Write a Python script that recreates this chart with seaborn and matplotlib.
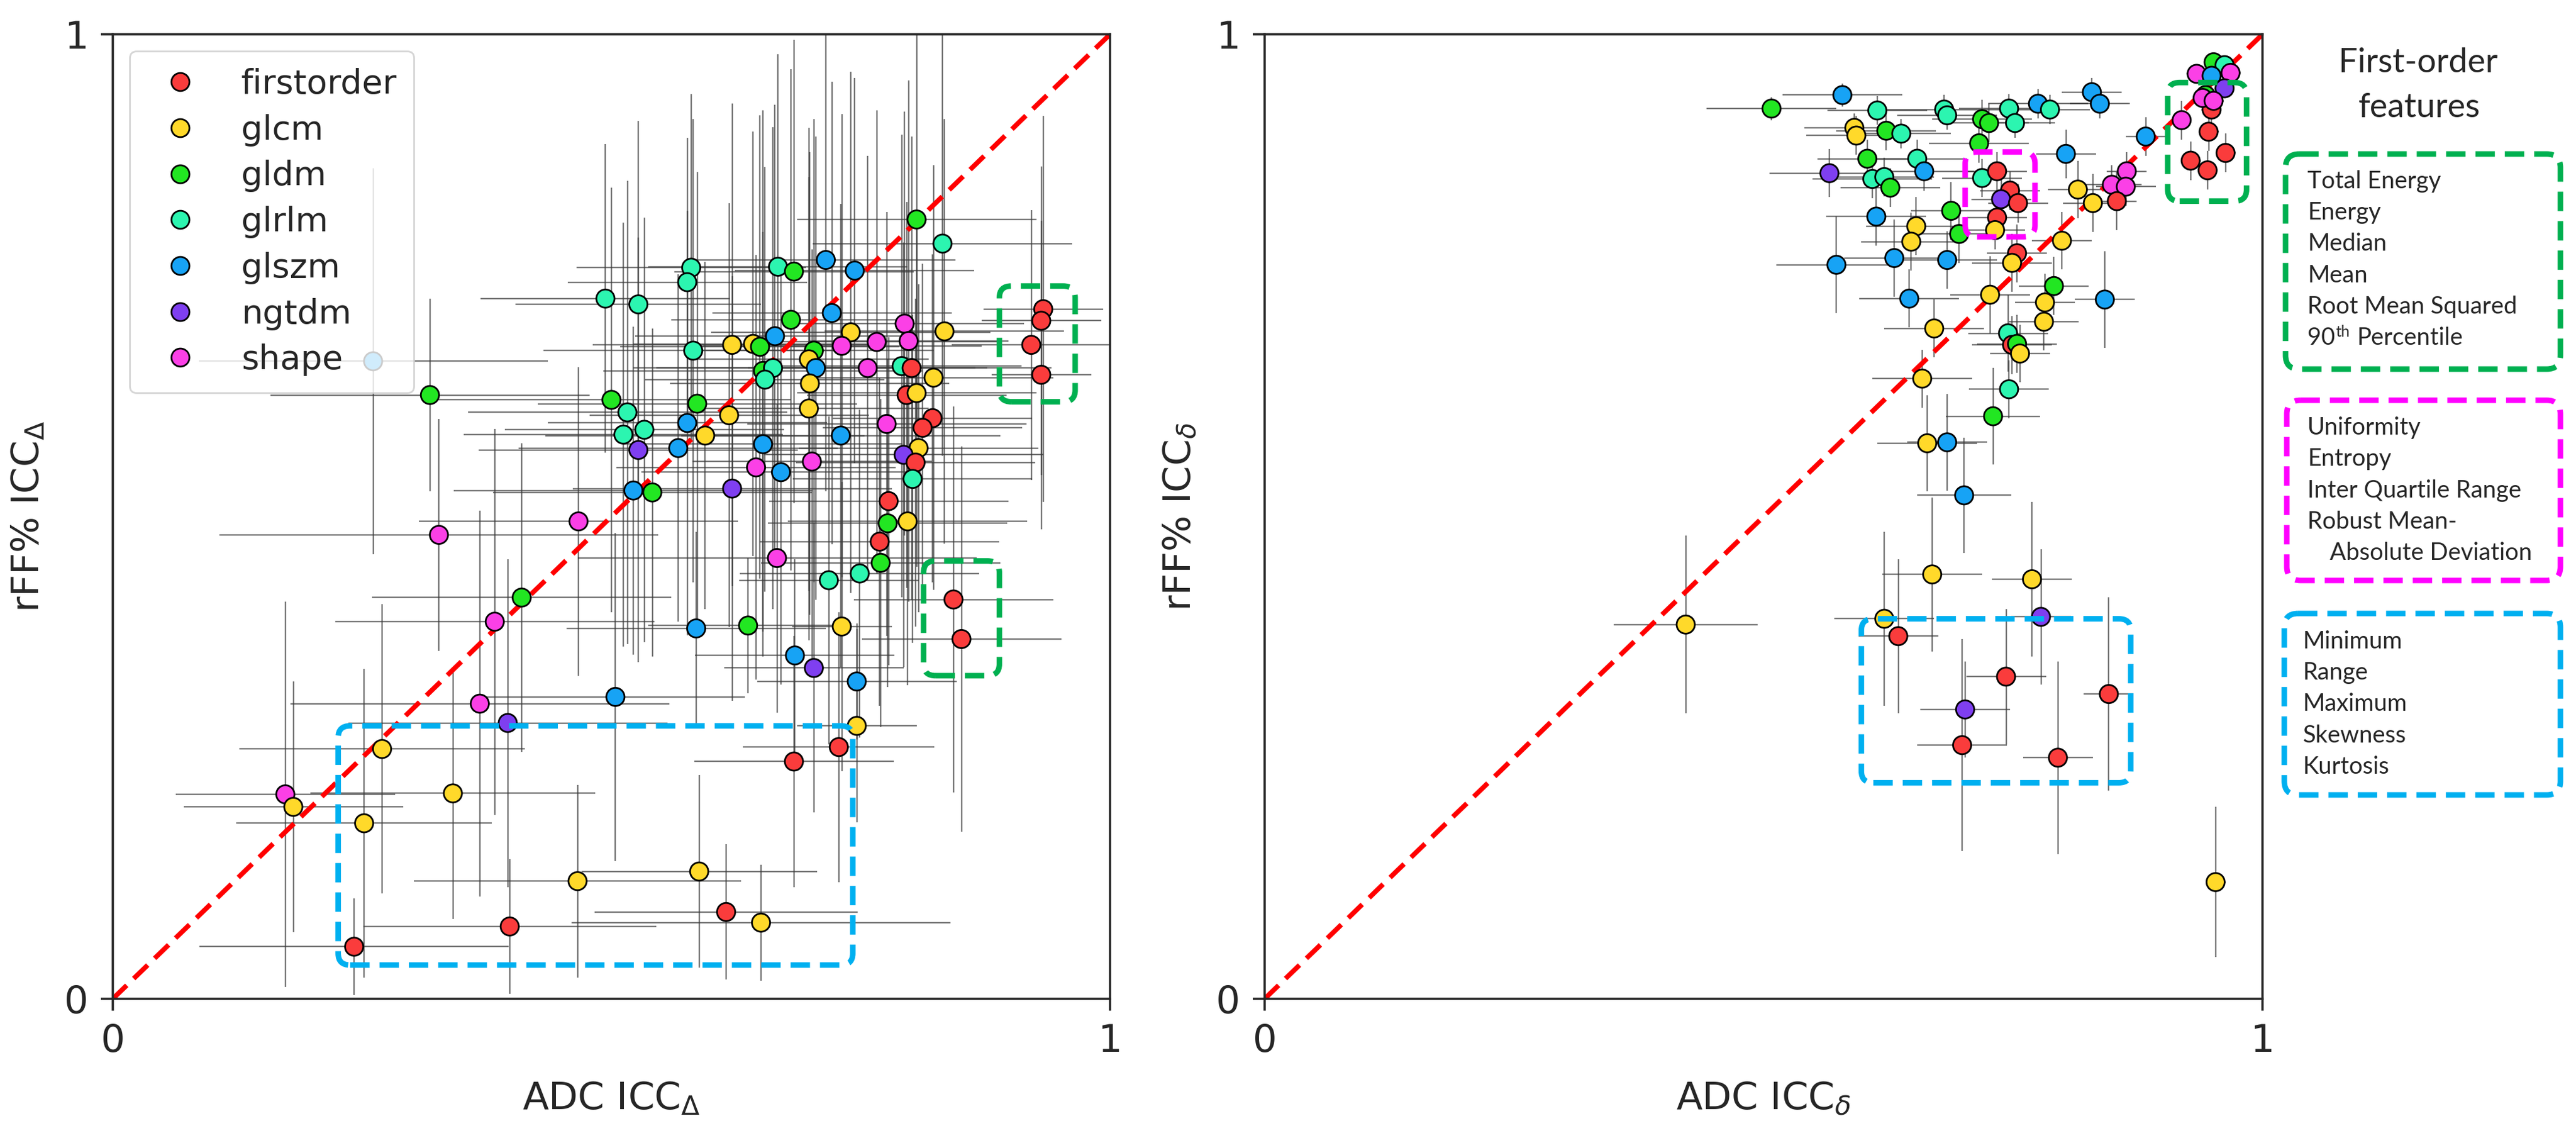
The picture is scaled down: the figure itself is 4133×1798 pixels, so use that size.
import numpy as np
import pandas as pd
import seaborn as sns
import matplotlib
matplotlib.use("Agg")
from matplotlib import pyplot as plt
from matplotlib.lines import Line2D
from matplotlib.patches import FancyBboxPatch
from matplotlib.text import Annotation

# feature classes and colours
classes = ["firstorder", "glcm", "gldm", "glrlm", "glszm", "ngtdm", "shape"]
class_colors = ["#fa3c3c", "#ffd92a", "#22e622", "#2cf5b0", "#17a3f5", "#7f3ff0", "#fb40e6"]

# left panel: ADC ICC_Delta vs rFF% ICC_Delta
left_x = [0.806, 0.832, 0.715, 0.744, 0.667, 0.683, 0.580, 0.576, 0.494, 0.527,
          0.721, 0.680, 0.794, 0.834, 0.933, 0.931, 0.921, 0.931, 0.740, 0.766,
          0.798, 0.731, 0.582, 0.621, 0.642, 0.649, 0.664, 0.703, 0.698, 0.705,
          0.757, 0.791, 0.801, 0.823, 0.652, 0.662, 0.654, 0.699, 0.796, 0.806,
          0.500, 0.516, 0.586, 0.618, 0.698, 0.822, 0.812, 0.776, 0.512, 0.533,
          0.576, 0.594, 0.567, 0.527, 0.652, 0.730, 0.808, 0.793, 0.805, 0.802,
          0.645, 0.670, 0.701, 0.621, 0.522, 0.541, 0.467, 0.778, 0.777, 0.797,
          0.769, 0.666, 0.770, 0.749, 0.718, 0.261, 0.318, 0.327, 0.410, 0.383,
          0.585, 0.637, 0.731, 0.843, 0.851, 0.684, 0.703, 0.746, 0.504, 0.368,
          0.396, 0.746, 0.270, 0.728, 0.683, 0.341, 0.173, 0.181, 0.252, 0.588,
          0.466, 0.615, 0.650, 0.398, 0.242]
left_y = [0.808, 0.783, 0.766, 0.755, 0.759, 0.754, 0.758, 0.743, 0.726, 0.720,
          0.711, 0.704, 0.700, 0.692, 0.715, 0.703, 0.678, 0.647, 0.691, 0.681,
          0.682, 0.677, 0.672, 0.678, 0.679, 0.676, 0.687, 0.672, 0.663, 0.654,
          0.654, 0.656, 0.654, 0.644, 0.651, 0.654, 0.642, 0.638, 0.626, 0.628,
          0.621, 0.608, 0.617, 0.605, 0.612, 0.602, 0.592, 0.596, 0.585, 0.590,
          0.597, 0.584, 0.571, 0.569, 0.575, 0.584, 0.571, 0.564, 0.556, 0.539,
          0.551, 0.546, 0.557, 0.529, 0.527, 0.525, 0.495, 0.516, 0.493, 0.495,
          0.474, 0.457, 0.452, 0.441, 0.434, 0.661, 0.626, 0.481, 0.416, 0.391,
          0.384, 0.387, 0.386, 0.414, 0.373, 0.356, 0.343, 0.329, 0.313, 0.306,
          0.286, 0.283, 0.259, 0.261, 0.246, 0.213, 0.212, 0.199, 0.182, 0.132,
          0.122, 0.090, 0.079, 0.075, 0.054]
left_xerr = [0.12, 0.13, 0.13, 0.12, 0.13, 0.12, 0.115, 0.12, 0.125, 0.123,
             0.12, 0.12, 0.12, 0.12, 0.06, 0.06, 0.08, 0.05, 0.14, 0.12,
             0.10, 0.14, 0.15, 0.14, 0.12, 0.14, 0.14, 0.12, 0.12, 0.16,
             0.12, 0.12, 0.14, 0.12, 0.16, 0.14, 0.12, 0.14, 0.10, 0.12,
             0.18, 0.16, 0.16, 0.14, 0.12, 0.10, 0.10, 0.14, 0.16, 0.14,
             0.14, 0.16, 0.16, 0.16, 0.14, 0.16, 0.12, 0.14, 0.12, 0.12,
             0.14, 0.14, 0.12, 0.16, 0.18, 0.16, 0.16, 0.12, 0.12, 0.12,
             0.12, 0.20, 0.12, 0.12, 0.09, 0.175, 0.16, 0.22, 0.15, 0.16,
             0.13, 0.10, 0.05, 0.10, 0.10, 0.10, 0.09, 0.10, 0.13, 0.19,
             0.16, 0.06, 0.143, 0.096, 0.10, 0.143, 0.11, 0.11, 0.128, 0.118,
             0.164, 0.132, 0.19, 0.147, 0.155]
left_yerr = [0.22, 0.22, 0.24, 0.20, 0.22, 0.24, 0.18, 0.15, 0.16, 0.19,
             0.24, 0.26, 0.22, 0.22, 0.20, 0.16, 0.14, 0.16, 0.27, 0.24,
             0.27, 0.24, 0.24, 0.25, 0.22, 0.24, 0.24, 0.24, 0.24, 0.24,
             0.22, 0.24, 0.24, 0.22, 0.27, 0.25, 0.22, 0.24, 0.20, 0.18,
             0.22, 0.24, 0.24, 0.22, 0.24, 0.17, 0.17, 0.22, 0.22, 0.22,
             0.22, 0.18, 0.18, 0.22, 0.22, 0.24, 0.17, 0.22, 0.17, 0.17,
             0.22, 0.22, 0.22, 0.22, 0.17, 0.17, 0.16, 0.17, 0.17, 0.17,
             0.17, 0.16, 0.17, 0.17, 0.17, 0.20, 0.10, 0.12, 0.16, 0.20,
             0.10, 0.07, 0.15, 0.20, 0.20, 0.10, 0.15, 0.06, 0.17, 0.20,
             0.17, 0.10, 0.15, 0.14, 0.13, 0.13, 0.20, 0.13, 0.16, 0.10,
             0.10, 0.07, 0.06, 0.07, 0.05]
left_group = ["gldm", "glrlm", "glszm", "glszm", "glrlm", "gldm", "glrlm", "glrlm", "glrlm", "glrlm",
              "glszm", "gldm", "shape", "glcm", "firstorder", "firstorder", "firstorder", "firstorder", "glcm", "shape",
              "shape", "shape", "glrlm", "glcm", "glcm", "gldm", "glszm", "gldm", "glcm", "glszm",
              "shape", "glrlm", "firstorder", "glcm", "gldm", "glrlm", "glrlm", "glcm", "firstorder", "glcm",
              "gldm", "glrlm", "gldm", "glcm", "glcm", "firstorder", "firstorder", "shape", "glrlm", "glrlm",
              "glszm", "glcm", "glszm", "ngtdm", "glszm", "glszm", "glcm", "ngtdm", "firstorder", "glrlm",
              "shape", "glszm", "shape", "ngtdm", "glszm", "gldm", "shape", "firstorder", "gldm", "glcm",
              "firstorder", "shape", "gldm", "glrlm", "glrlm", "glszm", "gldm", "shape", "gldm", "shape",
              "glszm", "gldm", "glcm", "firstorder", "firstorder", "glszm", "ngtdm", "glszm", "glszm", "shape",
              "ngtdm", "glcm", "glcm", "firstorder", "firstorder", "glcm", "shape", "glcm", "glcm", "glcm",
              "glcm", "firstorder", "glcm", "firstorder", "firstorder"]

# right panel: ADC ICC_delta vs rFF% ICC_delta
right_x = [0.508, 0.579, 0.614, 0.681, 0.684, 0.719, 0.726, 0.746, 0.752, 0.775,
           0.787, 0.829, 0.837, 0.591, 0.593, 0.623, 0.638, 0.716, 0.604, 0.654,
           0.661, 0.566, 0.609, 0.621, 0.627, 0.719, 0.734, 0.803, 0.883, 0.747,
           0.738, 0.755, 0.734, 0.732, 0.688, 0.696, 0.613, 0.653, 0.648, 0.815,
           0.830, 0.849, 0.864, 0.863, 0.854, 0.799, 0.754, 0.749, 0.573, 0.631,
           0.684, 0.791, 0.727, 0.782, 0.842, 0.646, 0.781, 0.671, 0.745, 0.749,
           0.754, 0.757, 0.659, 0.746, 0.730, 0.664, 0.684, 0.701, 0.669, 0.769,
           0.621, 0.778, 0.422, 0.635, 0.743, 0.846, 0.702, 0.699, 0.795, 0.953,
           0.919, 0.946, 0.928, 0.945, 0.963, 0.949, 0.951, 0.934, 0.962, 0.949,
           0.968, 0.962, 0.943, 0.940, 0.951]
right_y = [0.923, 0.937, 0.921, 0.922, 0.916, 0.912, 0.908, 0.923, 0.908, 0.928,
           0.922, 0.940, 0.928, 0.903, 0.895, 0.900, 0.897, 0.887, 0.871, 0.871,
           0.858, 0.856, 0.850, 0.852, 0.841, 0.851, 0.858, 0.876, 0.894, 0.838,
           0.829, 0.825, 0.810, 0.797, 0.817, 0.793, 0.811, 0.801, 0.785, 0.839,
           0.825, 0.844, 0.858, 0.842, 0.827, 0.786, 0.773, 0.763, 0.761, 0.768,
           0.766, 0.739, 0.730, 0.722, 0.725, 0.726, 0.702, 0.695, 0.690, 0.678,
           0.679, 0.669, 0.643, 0.632, 0.604, 0.576, 0.577, 0.522, 0.440, 0.435,
           0.394, 0.396, 0.388, 0.376, 0.334, 0.316, 0.300, 0.263, 0.250, 0.121,
           0.911, 0.899, 0.869, 0.859, 0.877, 0.922, 0.971, 0.959, 0.968, 0.957,
           0.960, 0.944, 0.937, 0.934, 0.931]
right_xerr = [0.065, 0.06, 0.05, 0.06, 0.05, 0.05, 0.04, 0.05, 0.04, 0.05,
              0.04, 0.03, 0.03, 0.05, 0.05, 0.05, 0.05, 0.05, 0.05, 0.05,
              0.05, 0.06, 0.06, 0.05, 0.05, 0.04, 0.03, 0.03, 0.02, 0.03,
              0.03, 0.03, 0.03, 0.03, 0.04, 0.04, 0.05, 0.05, 0.05, 0.03,
              0.03, 0.03, 0.02, 0.03, 0.02, 0.03, 0.03, 0.04, 0.06, 0.05,
              0.05, 0.035, 0.04, 0.03, 0.03, 0.05, 0.035, 0.05, 0.04, 0.04,
              0.04, 0.03, 0.05, 0.04, 0.047, 0.05, 0.04, 0.047, 0.05, 0.04,
              0.05, 0.03, 0.072, 0.04, 0.04, 0.025, 0.045, 0.045, 0.035, 0.01,
              0.01, 0.01, 0.01, 0.01, 0.01, 0.01, 0.01, 0.01, 0.01, 0.01,
              0.01, 0.01, 0.01, 0.01, 0.01]
right_yerr = [0.012, 0.012, 0.015, 0.015, 0.015, 0.02, 0.02, 0.015, 0.015, 0.015,
              0.015, 0.015, 0.015, 0.015, 0.02, 0.02, 0.015, 0.02, 0.02, 0.02,
              0.02, 0.025, 0.02, 0.02, 0.02, 0.02, 0.02, 0.025, 0.02, 0.02,
              0.02, 0.02, 0.02, 0.02, 0.03, 0.03, 0.03, 0.03, 0.03, 0.03,
              0.03, 0.02, 0.02, 0.02, 0.03, 0.03, 0.03, 0.03, 0.05, 0.04,
              0.03, 0.03, 0.04, 0.03, 0.05, 0.03, 0.03, 0.03, 0.04, 0.03,
              0.03, 0.03, 0.03, 0.03, 0.05, 0.05, 0.05, 0.06, 0.08, 0.08,
              0.09, 0.07, 0.092, 0.08, 0.07, 0.10, 0.05, 0.11, 0.10, 0.078,
              0.02, 0.02, 0.02, 0.02, 0.02, 0.015, 0.01, 0.01, 0.01, 0.01,
              0.01, 0.01, 0.01, 0.01, 0.01]
right_group = ["gldm", "glszm", "glrlm", "glrlm", "glrlm", "gldm", "gldm", "glrlm", "glrlm", "glszm",
               "glrlm", "glszm", "glszm", "glcm", "glcm", "gldm", "glrlm", "gldm", "gldm", "glrlm",
               "glszm", "ngtdm", "glrlm", "glrlm", "gldm", "glrlm", "firstorder", "glszm", "glszm", "firstorder",
               "ngtdm", "firstorder", "firstorder", "glcm", "gldm", "gldm", "glszm", "glcm", "glcm", "glcm",
               "glcm", "shape", "shape", "shape", "firstorder", "glcm", "firstorder", "glcm", "glszm", "glszm",
               "glszm", "gldm", "glcm", "glcm", "glszm", "glszm", "glcm", "glcm", "glrlm", "firstorder",
               "gldm", "glcm", "glcm", "glrlm", "gldm", "glcm", "glszm", "glszm", "glcm", "glcm",
               "glcm", "ngtdm", "glcm", "firstorder", "firstorder", "firstorder", "ngtdm", "firstorder", "firstorder", "glcm",
               "shape", "firstorder", "firstorder", "firstorder", "firstorder", "firstorder", "gldm", "shape", "glrlm", "glszm",
               "shape", "ngtdm", "gldm", "shape", "shape"]

# dashed highlight boxes, data coords (x0, y0, x1, y1)
left_boxes = [(0.226, 0.035, 0.742, 0.283), (0.889, 0.619, 0.965, 0.739), (0.813, 0.335, 0.889, 0.454)]
left_box_colors = ["#00b0f0", "#00b050", "#00b050"]
right_boxes = [(0.598, 0.224, 0.868, 0.394), (0.702, 0.790, 0.772, 0.878), (0.905, 0.827, 0.984, 0.950)]
right_box_colors = ["#00b0f0", "#ff00ff", "#00b050"]

# side notes
notes_title = ["First-order", "features"]
notes_green = ["Total Energy", "Energy", "Median", "Mean", "Root Mean Squared"]
notes_magenta = ["Uniformity", "Entropy", "Inter Quartile Range", "Robust Mean-"]
notes_blue = ["Minimum", "Range", "Maximum", "Skewness", "Kurtosis"]

sns.set_style("ticks")
plt.rcParams["font.family"] = ["DejaVu Sans"]
plt.rcParams["axes.linewidth"] = 1.3

W, H = 4133, 1798
fig = plt.figure(figsize=(W / 200, H / 200), dpi=200)
palette = dict(zip(classes, class_colors))
dash = (0, (3.5, 1.8))


def draw_panel(ax, xs, ys, xe, ye, grp, boxes, box_colors, sub):
    ax.plot([0, 1], [0, 1], color="red", lw=2.8, ls=(0, (4, 2)), zorder=2)
    ax.errorbar(xs, ys, xerr=xe, yerr=ye, fmt="none", ecolor="#3a3a3a",
                elinewidth=0.85, alpha=0.7, zorder=1)
    df = pd.DataFrame({"x": xs, "y": ys, "group": grp})
    sns.scatterplot(data=df, x="x", y="y", hue="group", palette=palette,
                    s=110, edgecolor="black", linewidth=1.0, legend=False,
                    ax=ax, zorder=3)
    for (x0, y0, x1, y1), c in zip(boxes, box_colors):
        ax.add_patch(FancyBboxPatch((x0, y0), x1 - x0, y1 - y0,
                                    boxstyle="round,pad=0,rounding_size=0.012",
                                    fill=False, edgecolor=c, lw=3.2, ls=dash, zorder=4))
    ax.set_xlim(0, 1)
    ax.set_ylim(0, 1)
    ax.set_xticks([0, 1])
    ax.set_yticks([0, 1])
    ax.set_xticklabels(["0", "1"])
    ax.set_yticklabels(["0", "1"])
    ax.tick_params(labelsize=22, length=7, width=1.3, pad=7)
    ax.set_xlabel("ADC ICC$_{" + sub + "}$", fontsize=22, labelpad=12)
    ax.set_ylabel("rFF% ICC$_{" + sub + "}$", fontsize=22, labelpad=10)


ax1 = fig.add_axes([181 / W, 1 - 1602 / H, 1600 / W, 1547 / H])
draw_panel(ax1, left_x, left_y, left_xerr, left_yerr, left_group,
           left_boxes, left_box_colors, r"\Delta")
handles = [Line2D([], [], marker="o", ls="", markersize=10.4, markerfacecolor=c,
                  markeredgecolor="black", markeredgewidth=1.0) for c in class_colors]
leg = ax1.legend(handles, classes, loc="upper left", fontsize=19.5, framealpha=0.8,
                 labelspacing=0.4, handletextpad=0.8, borderpad=0.5)
leg.set_zorder(5)

ax2 = fig.add_axes([2029 / W, 1 - 1602 / H, 1601 / W, 1547 / H])
draw_panel(ax2, right_x, right_y, right_xerr, right_yerr, right_group,
           right_boxes, right_box_colors, r"\delta")

# overlay in pixel units for the side notes
ov = fig.add_axes([0, 0, 1, 1], zorder=10)
ov.set_xlim(0, W)
ov.set_ylim(H, 0)
ov.axis("off")
note_font = ["Lato", "DejaVu Sans"]

ov.text(3880, 100, notes_title[0], ha="center", va="center", fontsize=19.5, family=note_font)
ov.text(3882, 172, notes_title[1], ha="center", va="center", fontsize=19.5, family=note_font)

for (x0, y0, x1, y1), c in zip([(3667, 247, 4108, 592), (3669, 642, 4108, 931), (3665, 984, 4108, 1275)],
                               ["#00b050", "#ff00ff", "#00b0f0"]):
    ov.add_patch(FancyBboxPatch((x0, y0), x1 - x0, y1 - y0,
                                boxstyle="round,pad=0,rounding_size=22",
                                fill=False, edgecolor=c, lw=3.2, ls=dash))

for i, t in enumerate(notes_green):
    ov.text(3702, 291 + 50.2 * i, t, ha="left", va="center", fontsize=13.8, family=note_font)
t90 = ov.text(3702, 542, "90", ha="left", va="center", fontsize=13.8, family=note_font)
th = Annotation("th", xy=(1, 1), xycoords=t90, xytext=(0.5, 1), textcoords="offset points",
                ha="left", va="top", fontsize=9, family=note_font)
ov.add_artist(th)
pc = Annotation("Percentile", xy=(1, 0), xycoords=(th, t90), xytext=(4, 0),
                textcoords="offset points", ha="left", va="bottom", fontsize=13.8, family=note_font)
ov.add_artist(pc)

for i, t in enumerate(notes_magenta):
    ov.text(3702, 686 + 50.3 * i, t, ha="left", va="center", fontsize=13.8, family=note_font)
ov.text(3738, 887, "Absolute Deviation", ha="left", va="center", fontsize=13.8, family=note_font)

for i, t in enumerate(notes_blue):
    ov.text(3695, 1029 + 50.2 * i, t, ha="left", va="center", fontsize=13.8, family=note_font)

fig.savefig("out.png", dpi=200)
